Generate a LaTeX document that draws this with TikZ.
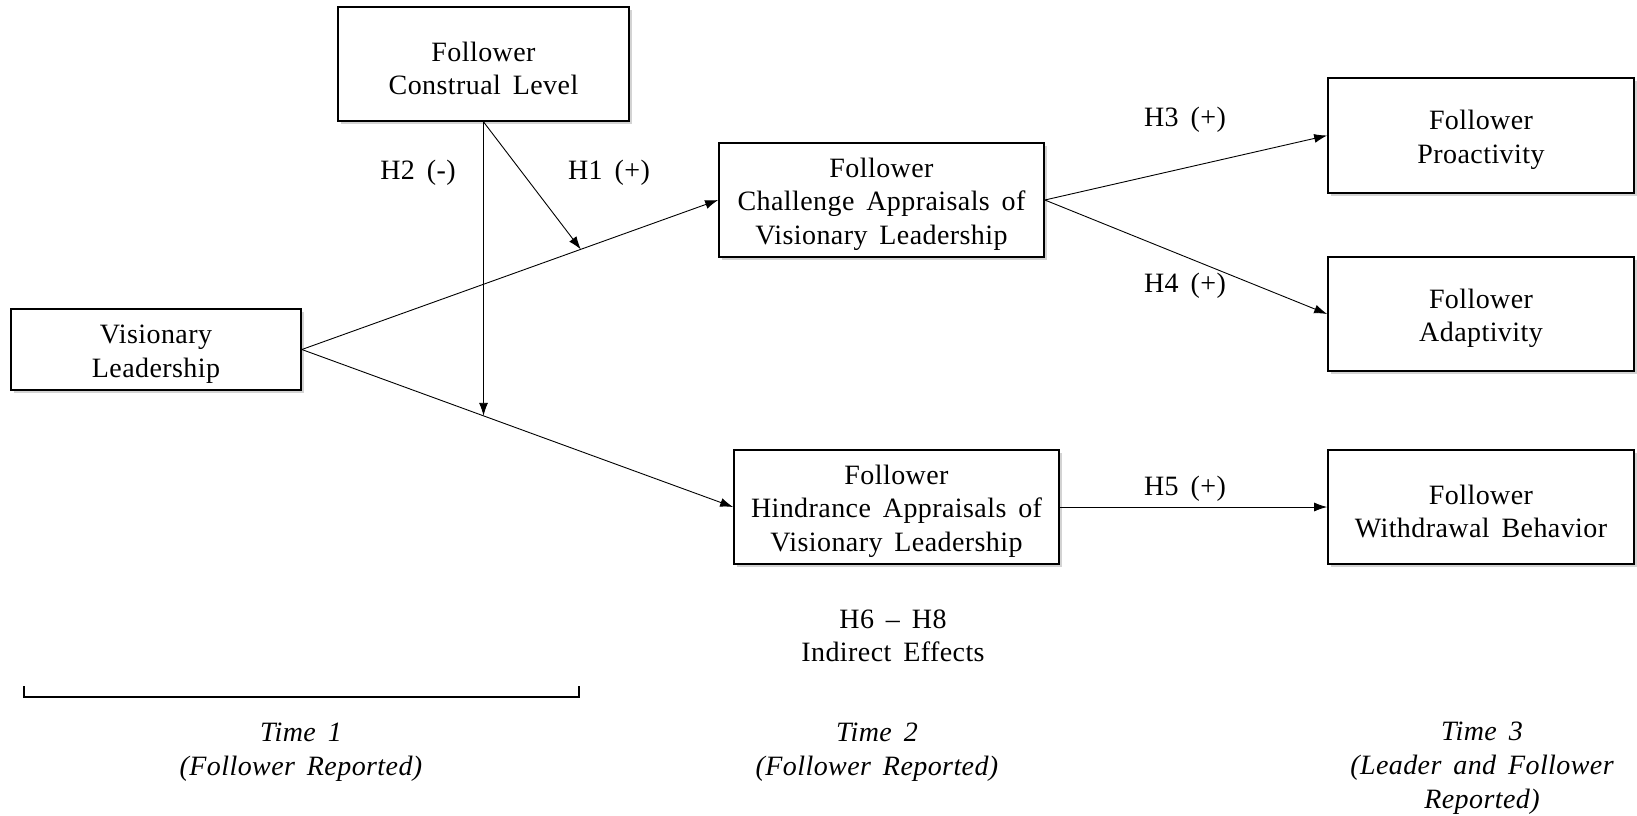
\documentclass[tikz,border=0pt]{standalone}
\usepackage{fontspec}
\setmainfont{Liberation Serif}[LetterSpace=1.5,WordSpace=1.6]
\usetikzlibrary{arrows.meta,shadows,calc}
\newcommand\topstrut{\rule{0pt}{28pt}}
\begin{document}
\begin{tikzpicture}[x=1pt,y=-1pt,
  font=\fontsize{28}{33.5}\selectfont,
  box/.style={draw, line width=1.7pt, fill=white, align=center, inner sep=0pt,
     drop shadow={shadow xshift=3pt, shadow yshift=-3pt, opacity=0.35, fill=gray}},
  conn/.style={line width=0.9pt, -{Latex[length=13pt,width=9pt]}},
  lbl/.style={inner sep=0pt, align=center},
  tlbl/.style={inner sep=0pt, align=center, font=\fontsize{28}{34}\selectfont\itshape}]
\useasboundingbox (0,0) rectangle (1637,815);
\node[box, minimum width=290pt, minimum height=81pt] (VL) at (156,349.5) {\topstrut Visionary\\Leadership};
\node[box, minimum width=291pt, minimum height=114pt] (CL) at (483.5,64) {\topstrut Follower\\Construal Level};
\node[box, minimum width=325pt, minimum height=114pt] (CH) at (881.5,200) {\topstrut Follower\\Challenge Appraisals of\\Visionary Leadership};
\node[box, minimum width=325pt, minimum height=114pt] (HI) at (896.5,507) {\topstrut Follower\\Hindrance Appraisals of\\Visionary Leadership};
\node[box, minimum width=306pt, minimum height=115pt] (PR) at (1481,135.5) {\topstrut Follower\\Proactivity};
\node[box, minimum width=306pt, minimum height=114pt] (AD) at (1481,314) {\topstrut Follower\\Adaptivity};
\node[box, minimum width=306pt, minimum height=114pt] (WD) at (1481,507) {\topstrut Follower\\Withdrawal Behavior};

\coordinate (cb) at (CL.south |- HI.south);
\coordinate (m2) at (intersection of VL.east--HI.west and CL.south--cb);
\coordinate (m1) at ($(VL.east)!0.67!(CH.west)$);

\draw[conn] (VL.east) -- (CH.west);
\draw[conn] (VL.east) -- (HI.west);
\draw[conn] (CL.south) -- (m2);
\draw[conn] (CL.south) -- (m1);
\draw[conn] (CH.east) -- (PR.west);
\draw[conn] (CH.east) -- (AD.west);
\draw[conn] (HI.east) -- (WD.west);

\node[lbl] (h2) at (418,173) {H2 (-)};
\node[lbl] (h1) at (609,173) {H1 (+)};
\node[lbl] (h3) at (1185,120) {H3 (+)};
\node[lbl] (h4) at (1185,286) {H4 (+)};
\node[lbl] (h5) at (1185,489) {H5 (+)};
\node[lbl] (ind) at (893,636) {H6 -- H8\\Indirect Effects};

\draw[line width=1.5pt] (24,686) -- (24,697) -- (579,697) -- (579,686);

\node[tlbl] (t1) at (301,752) {Time 1\\(Follower Reported)};
\node[tlbl] (t2) at (877,752) {Time 2\\(Follower Reported)};
\node[tlbl] (t3) at (1482,768.5) {Time 3\\(Leader and Follower\\Reported)};
\end{tikzpicture}
\end{document}
